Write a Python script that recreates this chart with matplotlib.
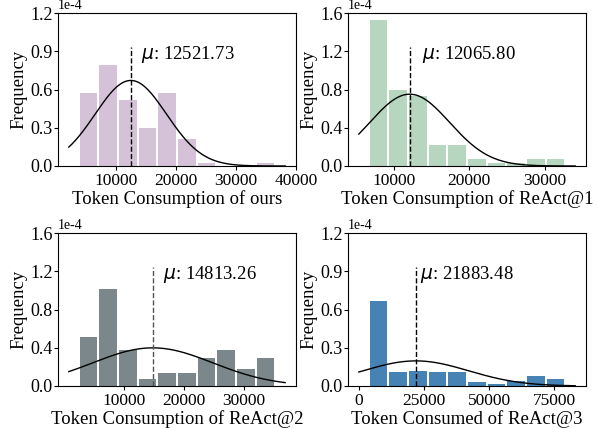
import numpy as np
import matplotlib
matplotlib.use("Agg")
import matplotlib.pyplot as plt
from matplotlib.ticker import ScalarFormatter

plt.rcParams['font.family'] = ['Liberation Serif', 'DejaVu Serif']
plt.rcParams['axes.unicode_minus'] = False

# ---- data (densities in units of 1e-4) ----
labels = ["Token Consumption of ours", "Token Consumption of ReAct@1",
          "Token Consumption of ReAct@2", "Token Consumed of ReAct@3"]
means = [12521.73, 12065.80, 14813.26, 21883.48]
stds = [5945, 5312, 10000, 20250]
data_min = [3830, 6609, 2490, 3750]
data_max = [36600, 32760, 35200, 79300]
heights_ours = [0.576, 0.789, 0.514, 0.301, 0.576, 0.215, 0.024, 0.0, 0.0, 0.024]
heights_r1 = [1.530, 0.797, 0.727, 0.220, 0.220, 0.073, 0.035, 0.035, 0.073, 0.073]
heights_r2 = [0.514, 1.013, 0.374, 0.070, 0.133, 0.133, 0.297, 0.374, 0.175, 0.297]
heights_r3 = [0.668, 0.110, 0.118, 0.110, 0.110, 0.031, 0.016, 0.042, 0.079, 0.055]
heights = [heights_ours, heights_r1, heights_r2, heights_r3]
ylims = [1.2, 1.6, 1.6, 1.2]
ystep = [0.3, 0.4, 0.4, 0.3]
xticks = [[10000, 20000, 30000, 40000], [10000, 20000, 30000],
          [10000, 20000, 30000], [0, 25000, 50000, 75000]]
colors = ['#d5c2d8', '#b6d6c0', '#7b878a', '#4682b4']
line_colors = ['black', 'black', '#555555', 'black']

fig = plt.figure(figsize=(5.99, 4.28), dpi=100)
W, H = 599, 428
boxes = [(58, 13), (348, 13), (58, 233), (348, 233)]
aw, ah = 238, 153

for i in range(4):
    x0, y0 = boxes[i]
    ax = fig.add_axes([x0 / W, 1 - (y0 + ah) / H, aw / W, ah / H])
    edges = np.linspace(data_min[i], data_max[i], len(heights[i]) + 1)
    bw = edges[1] - edges[0]
    centers = (edges[:-1] + edges[1:]) / 2
    ax.bar(centers, np.array(heights[i]) * 1e-4, width=bw * 0.9, color=colors[i],
           linewidth=0)
    rng = data_max[i] - data_min[i]
    xmin, xmax = data_min[i] - 0.05 * rng, data_max[i] + 0.05 * rng
    xs = np.linspace(xmin, xmax, 200)
    pdf = np.exp(-0.5 * ((xs - means[i]) / stds[i]) ** 2) / (stds[i] * np.sqrt(2 * np.pi))
    ax.plot(xs, pdf, color='black', linewidth=1.0)
    ax.axvline(means[i], ymin=0, ymax=0.78, color=line_colors[i], linestyle='--', linewidth=1.0)
    ax.text(means[i] + 1700, 0.73,
            r'$\mu$: ' + f'{means[i]:.2f}', transform=ax.get_xaxis_transform(),
            ha='left', va='center', fontsize=13.5)
    ax.set_ylim(0, ylims[i] * 1e-4)
    ax.set_yticks(np.arange(0, ylims[i] + 1e-9, ystep[i]) * 1e-4)
    ax.set_xticks(xticks[i])
    fmt = ScalarFormatter(useMathText=False)
    fmt.set_scientific(True)
    fmt.set_powerlimits((0, 0))
    ax.yaxis.set_major_formatter(fmt)
    ax.yaxis.get_offset_text().set_fontsize(10)
    ax.tick_params(axis='y', labelsize=13, length=3, pad=1)
    ax.tick_params(axis='x', labelsize=12.5, length=3, pad=2)
    ax.set_xlabel(labels[i], fontsize=13.5, labelpad=1)
    ax.set_ylabel('Frequency', fontsize=13.5, labelpad=2)

fig.savefig('out.png', dpi=100)
